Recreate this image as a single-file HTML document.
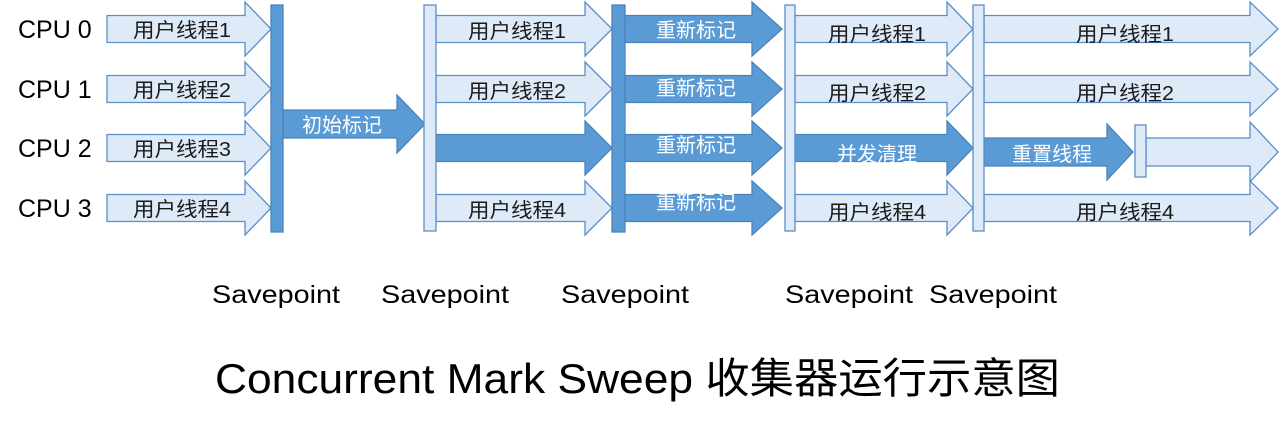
<!DOCTYPE html>
<html><head><meta charset="utf-8"><style>
html,body{margin:0;padding:0;background:#fff;}
svg{display:block}
text{font-family:"Liberation Sans","Noto Sans CJK SC",sans-serif;}
.l{fill:#deeaf7;stroke:#5b8fc7;stroke-width:1.3}
.d{fill:#5b9bd5;stroke:#4a83ba;stroke-width:1.3}
.tl{font-size:20px;fill:#1a1a1a;text-anchor:middle}
.td{font-size:20px;fill:#fff;text-anchor:middle}
.cpu{font-size:25px;fill:#000}
.sp{font-size:25px;fill:#000}
</style></head><body>
<svg width="1280" height="430" viewBox="0 0 1280 430">
<text class="cpu" x="18" y="38">CPU 0</text>
<text class="cpu" x="18" y="98">CPU 1</text>
<text class="cpu" x="18" y="157">CPU 2</text>
<text class="cpu" x="18" y="217">CPU 3</text>

<path class="l" d="M107,15.5H245V2L271,29L245,56V42.5H107Z"/>
<path class="l" d="M107,75.5H245V62L271,89L245,116V102.5H107Z"/>
<path class="l" d="M107,134.5H245V121L271,148L245,175V161.5H107Z"/>
<path class="l" d="M107,194.5H245V181L271,208L245,235V221.5H107Z"/>
<text class="tl" x="182" y="37" textLength="98" lengthAdjust="spacingAndGlyphs">用户线程1</text>
<text class="tl" x="182" y="97" textLength="98" lengthAdjust="spacingAndGlyphs">用户线程2</text>
<text class="tl" x="182" y="156" textLength="98" lengthAdjust="spacingAndGlyphs">用户线程3</text>
<text class="tl" x="182" y="216" textLength="98" lengthAdjust="spacingAndGlyphs">用户线程4</text>

<path class="d" d="M283,110H397V95L425,124L397,153V138H283Z"/>
<text class="td" x="342" y="132">初始标记</text>

<path class="l" d="M436,15.5H585V2L612,29L585,56V42.5H436Z"/>
<path class="l" d="M436,75.5H585V62L612,89L585,116V102.5H436Z"/>
<path class="d" d="M436,134.5H585V121L612,148L585,175V161.5H436Z"/>
<path class="l" d="M436,194.5H585V181L612,208L585,235V221.5H436Z"/>
<text class="tl" x="517" y="38" textLength="98" lengthAdjust="spacingAndGlyphs">用户线程1</text>
<text class="tl" x="517" y="98" textLength="98" lengthAdjust="spacingAndGlyphs">用户线程2</text>
<text class="tl" x="517" y="217" textLength="98" lengthAdjust="spacingAndGlyphs">用户线程4</text>

<path class="d" d="M625,15.5H752V2L782,29L752,56V42.5H625Z"/>
<path class="d" d="M625,75.5H752V62L782,89L752,116V102.5H625Z"/>
<path class="d" d="M625,134.5H752V121L782,148L752,175V161.5H625Z"/>
<path class="d" d="M625,194.5H752V181L782,208L752,235V221.5H625Z"/>
<text class="td" x="696" y="37">重新标记</text>
<text class="td" x="696" y="95">重新标记</text>
<text class="td" x="696" y="152">重新标记</text>
<text class="td" x="696" y="209">重新标记</text>

<path class="l" d="M795,15.5H947V2L973,29L947,56V42.5H795Z"/>
<path class="l" d="M795,75.5H947V62L973,89L947,116V102.5H795Z"/>
<path class="d" d="M795,134.5H947V121L973,148L947,175V161.5H795Z"/>
<path class="l" d="M795,194.5H947V181L973,208L947,235V221.5H795Z"/>
<text class="tl" x="877" y="41" textLength="98" lengthAdjust="spacingAndGlyphs">用户线程1</text>
<text class="tl" x="877" y="100" textLength="98" lengthAdjust="spacingAndGlyphs">用户线程2</text>
<text class="td" x="877" y="161">并发清理</text>
<text class="tl" x="877" y="219" textLength="98" lengthAdjust="spacingAndGlyphs">用户线程4</text>

<path class="l" d="M984,15.5H1250V2L1278,29L1250,56V42.5H984Z"/>
<path class="l" d="M984,75.5H1250V62L1278,89L1250,116V102.5H984Z"/>
<path class="l" d="M984,194.5H1250V181L1278,208L1250,235V221.5H984Z"/>
<path class="d" d="M984,138H1107V124L1133,152L1107,180V166H984Z"/>
<path class="l" d="M1146,138H1250V122L1278,152L1250,182V166H1146Z"/>
<rect class="l" x="1135" y="125" width="11" height="52"/>
<text class="tl" x="1125" y="41" textLength="98" lengthAdjust="spacingAndGlyphs">用户线程1</text>
<text class="tl" x="1125" y="100" textLength="98" lengthAdjust="spacingAndGlyphs">用户线程2</text>
<text class="td" x="1052" y="161">重置线程</text>
<text class="tl" x="1125" y="219" textLength="98" lengthAdjust="spacingAndGlyphs">用户线程4</text>

<rect class="d" x="271" y="5" width="12" height="227"/>
<rect class="l" x="424" y="5" width="12" height="226"/>
<rect class="d" x="612" y="5" width="13" height="227"/>
<rect class="l" x="785" y="5" width="10" height="226"/>
<rect class="l" x="973" y="5" width="11" height="226"/>

<text class="sp" x="212" y="303" textLength="128" lengthAdjust="spacingAndGlyphs">Savepoint</text>
<text class="sp" x="381" y="303" textLength="128" lengthAdjust="spacingAndGlyphs">Savepoint</text>
<text class="sp" x="561" y="303" textLength="128" lengthAdjust="spacingAndGlyphs">Savepoint</text>
<text class="sp" x="785" y="303" textLength="128" lengthAdjust="spacingAndGlyphs">Savepoint</text>
<text class="sp" x="929" y="303" textLength="128" lengthAdjust="spacingAndGlyphs">Savepoint</text>

<text x="215" y="393" style="font-size:42px;fill:#000" textLength="845" lengthAdjust="spacingAndGlyphs">Concurrent Mark Sweep 收集器运行示意图</text>
</svg>
</body></html>
